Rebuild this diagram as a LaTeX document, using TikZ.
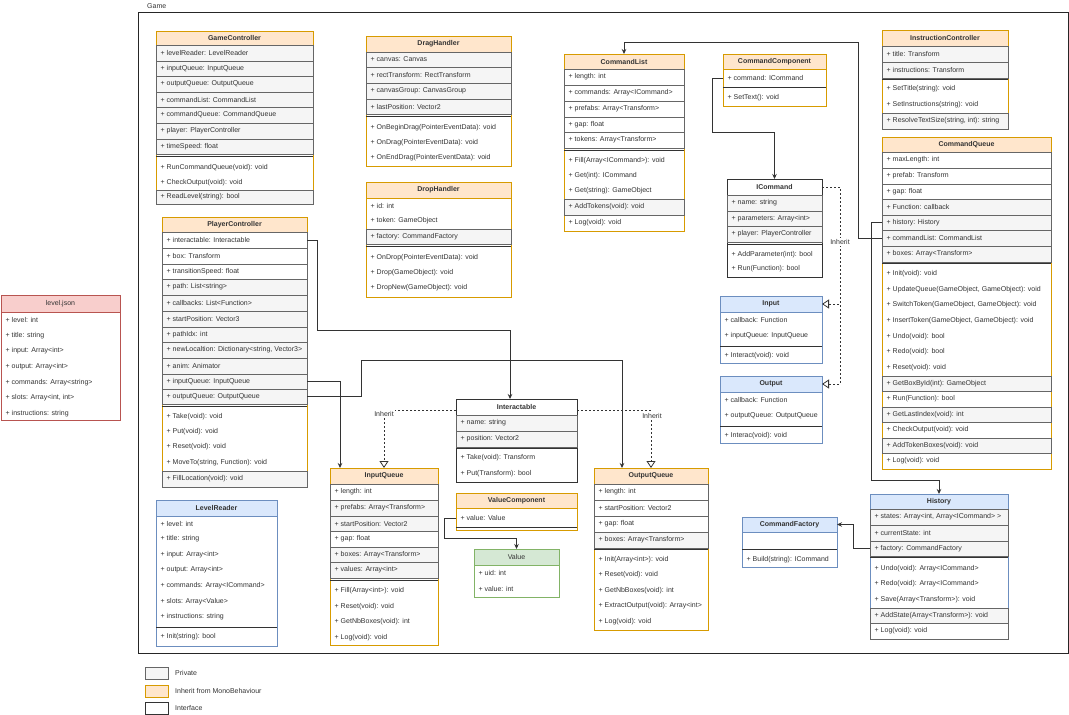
\documentclass[tikz,border=0pt]{standalone}
\usepackage{fontspec}
\setmainfont{Liberation Sans}
\usetikzlibrary{arrows.meta,calc}
\definecolor{oF}{HTML}{FFE6CC}\definecolor{oS}{HTML}{D79B00}
\definecolor{bF}{HTML}{DAE8FC}\definecolor{bS}{HTML}{6C8EBF}
\definecolor{gF}{HTML}{D5E8D4}\definecolor{gS}{HTML}{82B366}
\definecolor{rF}{HTML}{F8CECC}\definecolor{rS}{HTML}{B85450}
\definecolor{pF}{HTML}{F5F5F5}\definecolor{pS}{HTML}{666666}
\definecolor{tx}{HTML}{333333}
\definecolor{iS}{HTML}{333333}
\tikzset{
 txt/.style={inner sep=0pt, font=\fontsize{7}{8.4}\selectfont, text=tx},
 bold/.style={font=\fontsize{7}{8.4}\selectfont\bfseries, text=tx},
 reg/.style={font=\fontsize{7}{8.4}\selectfont, text=tx},
 lw/.style={line width=0.8pt},
 ocls/.style={lw, draw=oS, fill=white},
 ohd/.style={lw, draw=oS, fill=oF, bold},
 bcls/.style={lw, draw=bS, fill=white},
 bhd/.style={lw, draw=bS, fill=bF, bold},
 gcls/.style={lw, draw=gS, fill=white},
 ghd/.style={lw, draw=gS, fill=gF, reg},
 rcls/.style={lw, draw=rS, fill=white},
 rhd/.style={lw, draw=rS, fill=rF, reg},
 icls/.style={lw, draw=iS, fill=white},
 ihd/.style={lw, draw=iS, fill=white, bold},
 prv/.style={lw, draw=pS, fill=pF},
 pub/.style={lw, draw=pS, fill=white},
 lgo/.style={lw, draw=oS, fill=oF},
 sepl/.style={lw, draw=tx},
 framest/.style={lw, draw=black!85},
 conn/.style={lw, draw=tx, -{Stealth[length=5pt,width=4.5pt]}},
 inh/.style={lw, draw=tx, dash pattern=on 2pt off 2pt, -{Triangle[open,length=7pt,width=9pt,fill=white]}},
 lbl/.style={txt, fill=white, inner sep=1pt},
}
\newcommand{\chead}[7]{\node[#1, inner sep=0pt, outer sep=0pt, anchor=north west, minimum width={(#5-#3)*1pt}, minimum height={(#6-#4)*1pt}] (#2) at (#3,#4) {#7};}
\newcommand{\crow}[7]{\chead{#1}{#2}{#3}{#4}{#5}{#6}{}\node[txt, anchor=west] (#2t) at ([xshift=4.5pt]#2.west) {#7};}
\newcommand{\trow}[5]{\node[inner sep=0pt, outer sep=0pt, anchor=west, minimum width={(#4-#2)*1pt}, minimum height=15pt] (#1) at (#2,#3) {};\node[txt, anchor=west] (#1t) at ([xshift=4.5pt]#1.west) {#5};}
\newcommand{\csep}[3]{\draw[sepl] (#1,#3) -- (#2,#3);}
\begin{document}
\begin{tikzpicture}[x=1pt,y=-1pt]
\useasboundingbox (0,0) rectangle (1069,715);
% frame
\chead{framest}{game}{138}{12}{1068}{653}{}
\node[txt, anchor=west] (gamelbl) at (147,6.5) {Game};
% GameController
\chead{ocls}{gc}{156}{31}{313}{204}{}
\chead{ohd}{gch}{156}{31}{313}{45}{GameController}
\crow{prv}{gc1}{156}{45}{313}{61}{+ levelReader: LevelReader}
\crow{prv}{gc2}{156}{61}{313}{76}{+ inputQueue: InputQueue}
\crow{prv}{gc3}{156}{76}{313}{92}{+ outputQueue: OutputQueue}
\crow{prv}{gc4}{156}{92}{313}{107}{+ commandList: CommandList}
\crow{prv}{gc5}{156}{107}{313}{123}{+ commandQueue: CommandQueue}
\crow{prv}{gc6}{156}{123}{313}{139}{+ player: PlayerController}
\crow{prv}{gc7}{156}{139}{313}{154}{+ timeSpeed: float}
\csep{156}{313}{156}
\trow{gc8}{156}{168}{313}{+ RunCommandQueue(void): void}
\trow{gc9}{156}{183}{313}{+ CheckOutput(void): void}
\crow{prv}{gc10}{156}{190}{313}{204}{+ ReadLevel(string): bool}
% DragHandler
\chead{ocls}{dh}{366}{36}{511}{166}{}
\chead{ohd}{dhh}{366}{36}{511}{52}{DragHandler}
\crow{prv}{dh1}{366}{52}{511}{67}{+ canvas: Canvas}
\crow{prv}{dh2}{366}{67}{511}{83}{+ rectTransform: RectTransform}
\crow{prv}{dh3}{366}{83}{511}{99}{+ canvasGroup: CanvasGroup}
\crow{prv}{dh4}{366}{99}{511}{114}{+ lastPosition: Vector2}
\csep{366}{511}{116}
\trow{dh5}{366}{128}{511}{+ OnBeginDrag(PointerEventData): void}
\trow{dh6}{366}{143}{511}{+ OnDrag(PointerEventData): void}
\trow{dh7}{366}{158}{511}{+ OnEndDrag(PointerEventData): void}
% DropHandler
\chead{ocls}{drh}{366}{182}{511}{297}{}
\chead{ohd}{drhh}{366}{182}{511}{198}{DropHandler}
\trow{drh1}{366}{205.5}{511}{+ id: int}
\trow{drh2}{366}{221}{511}{+ token: GameObject}
\crow{prv}{drh3}{366}{229}{511}{244}{+ factory: CommandFactory}
\csep{366}{511}{246}
\trow{drh4}{366}{258}{511}{+ OnDrop(PointerEventData): void}
\trow{drh5}{366}{273}{511}{+ Drop(GameObject): void}
\trow{drh6}{366}{288}{511}{+ DropNew(GameObject): void}
% CommandList
\chead{ocls}{cl}{564}{54}{684}{231}{}
\chead{ohd}{clh}{564}{54}{684}{69}{CommandList}
\crow{pub}{cl1}{564}{69}{684}{85}{+ length: int}
\crow{pub}{cl2}{564}{85}{684}{101}{+ commands: Array<ICommand>}
\crow{pub}{cl3}{564}{101}{684}{117}{+ prefabs: Array<Transform>}
\crow{pub}{cl4}{564}{117}{684}{132}{+ gap: float}
\crow{pub}{cl5}{564}{132}{684}{148}{+ tokens: Array<Transform>}
\csep{564}{684}{150}
\trow{cl6}{564}{161}{684}{+ Fill(Array<ICommand>): void}
\trow{cl7}{564}{176}{684}{+ Get(int): ICommand}
\trow{cl8}{564}{191}{684}{+ Get(string): GameObject}
\crow{prv}{cl9}{564}{199}{684}{215}{+ AddTokens(void): void}
\trow{cl10}{564}{223}{684}{+ Log(void): void}
% CommandComponent
\chead{ocls}{cc}{723}{54}{826}{106}{}
\chead{ohd}{cch}{723}{54}{826}{69}{CommandComponent}
\trow{cc1}{723}{78}{826}{+ command: ICommand}
\csep{723}{826}{87}
\trow{cc2}{723}{98}{826}{+ SetText(): void}
% ICommand
\chead{icls}{ic}{727}{179}{822}{277}{}
\chead{ihd}{ich}{727}{179}{822}{195}{ICommand}
\crow{prv}{ic1}{727}{195}{822}{211}{+ name: string}
\crow{prv}{ic2}{727}{211}{822}{226}{+ parameters: Array<int>}
\crow{prv}{ic3}{727}{226}{822}{242}{+ player: PlayerController}
\csep{727}{822}{244}
\trow{ic4}{727}{255}{822}{+ AddParameter(int): bool}
\trow{ic5}{727}{269}{822}{+ Run(Function): bool}
% InstructionController
\chead{ocls}{inc}{882}{30}{1008}{129}{}
\chead{ohd}{inch}{882}{30}{1008}{46}{InstructionController}
\crow{prv}{inc1}{882}{46}{1008}{62}{+ title: Transform}
\crow{prv}{inc2}{882}{62}{1008}{78}{+ instructions: Transform}
\csep{882}{1008}{79}
\trow{inc3}{882}{89}{1008}{+ SetTitle(string): void}
\trow{inc4}{882}{105}{1008}{+ SetInstructions(string): void}
\crow{prv}{inc5}{882}{113}{1008}{129}{+ ResolveTextSize(string, int): string}
% CommandQueue
\chead{ocls}{cq}{882}{137}{1051}{469}{}
\chead{ohd}{cqh}{882}{137}{1051}{152}{CommandQueue}
\crow{pub}{cq1}{882}{152}{1051}{168}{+ maxLength: int}
\crow{pub}{cq2}{882}{168}{1051}{184}{+ prefab: Transform}
\crow{pub}{cq3}{882}{184}{1051}{199}{+ gap: float}
\crow{prv}{cq4}{882}{199}{1051}{215}{+ Function: callback}
\crow{prv}{cq5}{882}{215}{1051}{230}{+ history: History}
\crow{prv}{cq6}{882}{230}{1051}{246}{+ commandList: CommandList}
\crow{prv}{cq7}{882}{246}{1051}{262}{+ boxes: Array<Transform>}
\csep{882}{1051}{263.5}
\trow{cq8}{882}{274}{1051}{+ Init(void): void}
\trow{cq9}{882}{290}{1051}{+ UpdateQueue(GameObject, GameObject): void}
\trow{cq10}{882}{305}{1051}{+ SwitchToken(GameObject, GameObject): void}
\trow{cq11}{882}{321}{1051}{+ InsertToken(GameObject, GameObject): void}
\trow{cq12}{882}{337}{1051}{+ Undo(void): bool}
\trow{cq13}{882}{352}{1051}{+ Redo(void): bool}
\trow{cq14}{882}{368}{1051}{+ Reset(void): void}
\crow{prv}{cq15}{882}{376}{1051}{391}{+ GetBoxById(int): GameObject}
\trow{cq16}{882}{399}{1051}{+ Run(Function): bool}
\crow{prv}{cq17}{882}{407}{1051}{422}{+ GetLastIndex(void): int}
\trow{cq18}{882}{430}{1051}{+ CheckOutput(void): void}
\crow{prv}{cq19}{882}{438}{1051}{453}{+ AddTokenBoxes(void): void}
\trow{cq20}{882}{461}{1051}{+ Log(void): void}
% PlayerController
\chead{ocls}{pc}{162}{217}{307}{487}{}
\chead{ohd}{pch}{162}{217}{307}{232}{PlayerController}
\crow{pub}{pc1}{162}{232}{307}{248}{+ interactable: Interactable}
\crow{pub}{pc2}{162}{248}{307}{264}{+ box: Transform}
\crow{pub}{pc3}{162}{264}{307}{279}{+ transitionSpeed: float}
\crow{prv}{pc4}{162}{279}{307}{295}{+ path: List<string>}
\crow{prv}{pc5}{162}{295}{307}{311}{+ callbacks: List<Function>}
\crow{prv}{pc6}{162}{311}{307}{327}{+ startPosition: Vector3}
\crow{prv}{pc7}{162}{327}{307}{342}{+ pathIdx: int}
\crow{prv}{pc8}{162}{342}{307}{358}{+ newLocaltion: Dictionary<string, Vector3>}
\crow{prv}{pc9}{162}{358}{307}{374}{+ anim: Animator}
\crow{prv}{pc10}{162}{374}{307}{389}{+ inputQueue: InputQueue}
\crow{prv}{pc11}{162}{389}{307}{404}{+ outputQueue: OutputQueue}
\csep{162}{307}{406}
\trow{pc12}{162}{417}{307}{+ Take(void): void}
\trow{pc13}{162}{432}{307}{+ Put(void): void}
\trow{pc14}{162}{447}{307}{+ Reset(void): void}
\trow{pc15}{162}{463}{307}{+ MoveTo(string, Function): void}
\crow{prv}{pc16}{162}{471}{307}{487}{+ FillLocation(void): void}
% level.json
\chead{rcls}{lj}{1}{295}{120}{420}{}
\chead{rhd}{ljh}{1}{295}{120}{312}{level.json}
\trow{lj1}{1}{320}{120}{+ level: int}
\trow{lj2}{1}{335.5}{120}{+ title: string}
\trow{lj3}{1}{351}{120}{+ input: Array<int>}
\trow{lj4}{1}{367}{120}{+ output: Array<int>}
\trow{lj5}{1}{382.5}{120}{+ commands: Array<string>}
\trow{lj6}{1}{398}{120}{+ slots: Array<int, int>}
\trow{lj7}{1}{413.5}{120}{+ instructions: string}
% LevelReader
\chead{bcls}{lr}{156}{500}{277}{646}{}
\chead{bhd}{lrh}{156}{500}{277}{516}{LevelReader}
\trow{lr1}{156}{523.5}{277}{+ level: int}
\trow{lr2}{156}{539}{277}{+ title: string}
\trow{lr3}{156}{554.5}{277}{+ input: Array<int>}
\trow{lr4}{156}{570}{277}{+ output: Array<int>}
\trow{lr5}{156}{586}{277}{+ commands: Array<ICommand>}
\trow{lr6}{156}{601.5}{277}{+ slots: Array<Value>}
\trow{lr7}{156}{617}{277}{+ instructions: string}
\csep{156}{277}{627}
\trow{lr8}{156}{637}{277}{+ Init(string): bool}
% Interactable
\chead{icls}{ia}{456}{399}{577}{482}{}
\chead{ihd}{iah}{456}{399}{577}{415}{Interactable}
\crow{prv}{ia1}{456}{415}{577}{431}{+ name: string}
\crow{prv}{ia2}{456}{431}{577}{447}{+ position: Vector2}
\csep{456}{577}{448.5}
\trow{ia3}{456}{458}{577}{+ Take(void): Transform}
\trow{ia4}{456}{474}{577}{+ Put(Transform): bool}
% InputQueue
\chead{ocls}{iq}{330}{468}{438}{645}{}
\chead{ohd}{iqh}{330}{468}{438}{484}{InputQueue}
\crow{pub}{iq1}{330}{484}{438}{500}{+ length: int}
\crow{prv}{iq2}{330}{500}{438}{516}{+ prefabs: Array<Transform>}
\crow{prv}{iq3}{330}{516}{438}{531}{+ startPosition: Vector2}
\crow{pub}{iq4}{330}{531}{438}{547}{+ gap: float}
\crow{prv}{iq5}{330}{547}{438}{562}{+ boxes: Array<Transform>}
\crow{prv}{iq6}{330}{562}{438}{578}{+ values: Array<int>}
\csep{330}{438}{580}
\trow{iq7}{330}{591}{438}{+ Fill(Array<int>): void}
\trow{iq8}{330}{607}{438}{+ Reset(void): void}
\trow{iq9}{330}{622}{438}{+ GetNbBoxes(void): int}
\trow{iq10}{330}{638}{438}{+ Log(void): void}
% ValueComponent
\chead{ocls}{vc}{456}{493}{577}{530}{}
\chead{ohd}{vch}{456}{493}{577}{508}{ValueComponent}
\trow{vc1}{456}{518}{577}{+ value: Value}
\csep{456}{577}{527.5}
% Value
\chead{gcls}{val}{474}{549}{559}{597}{}
\chead{ghd}{valh}{474}{549}{559}{565}{Value}
\trow{val1}{474}{573}{559}{+ uid: int}
\trow{val2}{474}{588.5}{559}{+ value: int}
% OutputQueue
\chead{ocls}{oq}{594}{468}{708}{630}{}
\chead{ohd}{oqh}{594}{468}{708}{484}{OutputQueue}
\crow{pub}{oq1}{594}{484}{708}{500}{+ length: int}
\crow{pub}{oq2}{594}{500}{708}{516}{+ startPosition: Vector2}
\crow{pub}{oq3}{594}{516}{708}{532}{+ gap: float}
\crow{prv}{oq4}{594}{532}{708}{548}{+ boxes: Array<Transform>}
\csep{594}{708}{549.5}
\trow{oq5}{594}{559.5}{708}{+ Init(Array<int>): void}
\trow{oq6}{594}{575}{708}{+ Reset(void): void}
\trow{oq7}{594}{590.5}{708}{+ GetNbBoxes(void): int}
\trow{oq8}{594}{606}{708}{+ ExtractOutput(void): Array<int>}
\trow{oq9}{594}{621.5}{708}{+ Log(void): void}
% Input
\chead{bcls}{inp}{720}{296}{822}{363}{}
\chead{bhd}{inph}{720}{296}{822}{312}{Input}
\trow{inp1}{720}{320}{822}{+ callback: Function}
\trow{inp2}{720}{335.5}{822}{+ inputQueue: InputQueue}
\csep{720}{822}{346}
\trow{inp3}{720}{355.5}{822}{+ Interact(void): void}
% Output
\chead{bcls}{outp}{720}{376}{822}{443}{}
\chead{bhd}{outph}{720}{376}{822}{392}{Output}
\trow{outp1}{720}{399.5}{822}{+ callback: Function}
\trow{outp2}{720}{415.5}{822}{+ outputQueue: OutputQueue}
\csep{720}{822}{426}
\trow{outp3}{720}{435.5}{822}{+ Interac(void): void}
% CommandFactory
\chead{bcls}{cf}{742}{517}{837}{567}{}
\chead{bhd}{cfh}{742}{517}{837}{532}{CommandFactory}
\csep{742}{837}{549}
\trow{cf1}{742}{560}{837}{+ Build(string): ICommand}
% History
\chead{bcls}{hi}{870}{494}{1008}{639}{}
\chead{bhd}{hih}{870}{494}{1008}{509}{History}
\crow{prv}{hi1}{870}{509}{1008}{525}{+ states: Array<int, Array<ICommand> >}
\crow{prv}{hi2}{870}{525}{1008}{541}{+ currentState: int}
\crow{prv}{hi3}{870}{541}{1008}{556}{+ factory: CommandFactory}
\csep{870}{1008}{557.5}
\trow{hi4}{870}{569}{1008}{+ Undo(void): Array<ICommand>}
\trow{hi5}{870}{584}{1008}{+ Redo(void): Array<ICommand>}
\trow{hi6}{870}{600}{1008}{+ Save(Array<Transform>): void}
\crow{prv}{hi7}{870}{608}{1008}{623}{+ AddState(Array<Transform>): void}
\crow{pub}{hi8}{870}{623}{1008}{639}{+ Log(void): void}
% Legend
\chead{prv}{lg1}{145}{667}{168}{679}{}
\node[txt, anchor=west] (lg1t) at (175,673) {Private};
\chead{lgo}{lg2}{145}{685}{168}{697}{}
\node[txt, anchor=west] (lg2t) at (175,690.5) {Inherit from MonoBehaviour};
\chead{icls}{lg3}{145}{702}{168}{714}{}
\node[txt, anchor=west] (lg3t) at (175,708) {Interface};
% Connectors
\draw[conn] (cq6.west) -| (858,42) -| (cl.north);
\draw[conn] (cq5.west) -| (871,480) -| (hi.north);
\draw[conn] (cc1.west) -| (712,132) -| (ic.north);
\draw[conn] (pc1.east) -| (317,330) -| ([xshift=54pt]ia.north west);
\draw[conn] (pc10.east) -| ([xshift=10pt]iq.north west);
\draw[conn] (pc11.east) -| (361,360) -| ([xshift=28pt]oq.north west);
\draw[conn] (vc1.west) -| (444,538) -| (val.north);
\draw[conn] (hi3.west) -| (853,524.5) -- (cfh.east);
\draw[inh] ([yshift=-3pt]iah.west) -| (iq.north);
\draw[inh] ([yshift=-3pt]iah.east) -| (oq.north);
\draw[inh] (ich.east) -- ++(18,0) |- (inph.east);
\draw[inh] (ich.east) -- ++(18,0) |- (outph.east);
\node[lbl] (inhl1) at (384,414) {Inherit};
\node[lbl] (inhl2) at (652,416) {Inherit};
\node[lbl] (inhl3) at (840,242) {Inherit};
\end{tikzpicture}
\end{document}
